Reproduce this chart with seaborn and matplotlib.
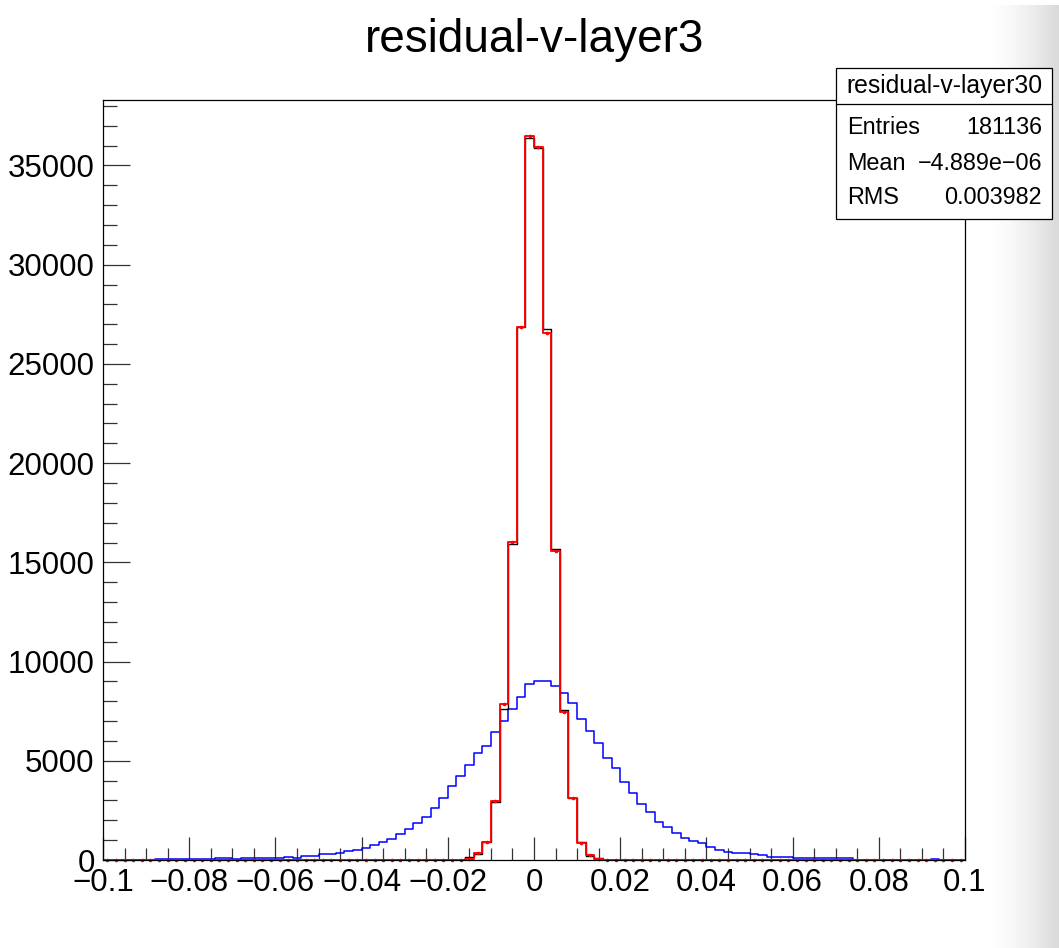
import numpy as np
import pandas as pd
import matplotlib
matplotlib.use("Agg")
import matplotlib.pyplot as plt
from matplotlib.ticker import MultipleLocator, FuncFormatter
from matplotlib.patches import Rectangle
import seaborn as sns

# ---------------- data (100 bins, width 0.002, from -0.1 to 0.1) ----------------
x_min, x_max, n_bins = -0.1, 0.1, 100

blue_counts = [
    0, 0, 0, 0, 0, 0, 35, 35, 35, 35,
    35, 35, 35, 100, 100, 35, 100, 100, 100, 85,
    85, 170, 85, 220, 220, 300, 300, 350, 440, 500,
    620, 755, 890, 1040, 1290, 1545, 1880, 2180, 2600, 3105,
    3726, 4245, 4783, 5403, 5755, 6460, 7000, 7603, 8224, 8862,
    9013, 9013, 8762, 8426, 7888, 7083, 6510, 5906, 5120, 4617,
    3943, 3390, 2805, 2400, 1930, 1680, 1375, 1090, 955, 840,
    640, 500, 420, 370, 335, 300, 250, 135, 135, 135,
    85, 85, 85, 85, 85, 85, 85, 15, 15, 15,
    15, 15, 15, 15, 15, 0, 40, 0, 0, 0,
]

black_counts = [0] * 42 + [
    170, 300, 890, 2940, 7600, 15910, 26850, 36400, 35900, 26760,
    15660, 7550, 3140, 920, 200, 80,
] + [0] * 42

red_counts = [0] * 42 + [
    40, 370, 920, 2990, 7840, 16020, 26850, 36500, 35950, 26570,
    15560, 7470, 3140, 870, 250, 50,
] + [0] * 42

title = "residual-v-layer3"
stats_name = "residual-v-layer30"
stats_rows = [("Entries", "181136"), ("Mean", "\u22124.889e\u221206"), ("RMS", "0.003982")]

edges = np.linspace(x_min, x_max, n_bins + 1)
centers = 0.5 * (edges[:-1] + edges[1:])
bw = (x_max - x_min) / n_bins
df = pd.DataFrame({"x": centers, "blue": blue_counts, "black": black_counts, "red": red_counts})

# ---------------- style ----------------
sns.set_theme(style="white")
plt.rcParams["font.family"] = ["Liberation Sans", "DejaVu Sans"]
plt.rcParams["axes.unicode_minus"] = True

W, H = 1059, 948
fig = plt.figure(figsize=(W / 100, H / 100), dpi=100)
fig.patch.set_facecolor("white")

# right-edge grey shading
bg = fig.add_axes([985 / W, 0, (W - 985) / W, (H - 5) / H], zorder=-5)
grad = np.linspace(0, 1, 200) ** 1.6
bg.imshow((1.0 - 0.15 * grad)[None, :], aspect="auto", cmap="gray", vmin=0, vmax=1,
          extent=[0, 1, 0, 1])
bg.set_axis_off()

ax = fig.add_axes([103 / W, (H - 860) / H, (965 - 103) / W, (860 - 100) / H])
ax.set_facecolor("none")

for col, colr, lw in [("blue", "#0000ff", 1.1), ("black", "black", 1.0), ("red", "#ff0000", 1.35)]:
    sns.histplot(data=df, x="x", weights=col, binwidth=bw, binrange=(x_min, x_max),
                 element="step", fill=False, color=colr, linewidth=lw, ax=ax)
ax.plot(df["x"], df["red"], linestyle="none", marker="o", markersize=1.6,
        color="#ff0000", clip_on=False)

ax.set_xlim(x_min, x_max)
ax.set_ylim(0, 38300)
ax.set_xlabel("")
ax.set_ylabel("")

for s in ax.spines.values():
    s.set_color("black")
    s.set_linewidth(0.9)
    s.set_visible(True)

ax.xaxis.set_major_locator(MultipleLocator(0.02))
ax.xaxis.set_minor_locator(MultipleLocator(0.005))
ax.yaxis.set_major_locator(MultipleLocator(5000))
ax.yaxis.set_minor_locator(MultipleLocator(1000))


def xfmt(v, pos):
    if abs(v) < 1e-9:
        return "0"
    s = f"{v:g}"
    return s.replace("-", "\u2212")


ax.xaxis.set_major_formatter(FuncFormatter(xfmt))
ax.yaxis.set_major_formatter(FuncFormatter(lambda v, p: f"{int(round(v))}"))

ax.tick_params(axis="both", which="both", direction="in", top=False, right=False,
               bottom=True, left=True, colors="#333333", width=0.9, labelsize=22.5,
               labelcolor="black")
ax.tick_params(axis="y", which="major", length=19.5, pad=6)
ax.tick_params(axis="y", which="minor", length=10)
ax.tick_params(axis="x", which="major", length=16.5, pad=6)
ax.tick_params(axis="x", which="minor", length=8.6)

# title
fig.text(535 / W, 1 - 40 / H, title, ha="center", va="center", fontsize=33, color="black")

# stats box
bx0, bx1, by0, by1 = 836 / W, 1052 / W, 1 - 219 / H, 1 - 68 / H
fig.add_artist(Rectangle((bx0, by0), bx1 - bx0, by1 - by0, transform=fig.transFigure,
                         facecolor="white", edgecolor="black", linewidth=0.9, zorder=10))
sep = 1 - 104 / H
fig.add_artist(plt.Line2D([bx0, bx1], [sep, sep], transform=fig.transFigure,
                          color="black", linewidth=0.9, zorder=11))
fig.text((bx0 + bx1) / 2, 1 - 86 / H, stats_name, ha="center", va="center",
         fontsize=17.8, color="black", zorder=12)
row_y = [127, 163, 198]
for (lab, val), yy in zip(stats_rows, row_y):
    fig.text(847 / W, 1 - yy / H, lab, ha="left", va="center", fontsize=16.8,
             color="black", zorder=12)
    fig.text(1042 / W, 1 - yy / H, val, ha="right", va="center", fontsize=16.8,
             color="black", zorder=12)

fig.savefig("out.png", dpi=100, facecolor="white")
